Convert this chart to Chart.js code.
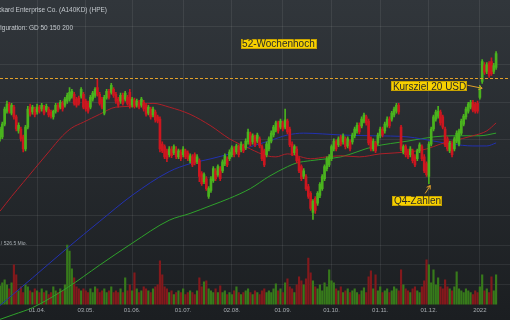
<!DOCTYPE html>
<html>
<head>
<meta charset="utf-8">
<script src="https://cdn.jsdelivr.net/npm/chart.js@4"></script>
<style>
html, body { margin: 0; padding: 0; background: #1c1f23; }
#wrap { width: 510px; height: 320px; position: relative; }
</style>
</head>
<body>
<div id="wrap"><canvas id="myChart"></canvas></div>
<script>
// HPE daily candles, trading day index 0 = ~10.03.2021
const opens = [
15.03,15.08,15.42,15.76,15.95,15.71,15.87,15.61,15.24,15.29,
15.08,14.76,15.34,15.87,15.74,15.82,15.74,15.87,15.82,15.87,
15.79,15.82,15.74,15.61,15.76,15.92,15.87,15.97,15.92,16.03,
16.08,16.16,16.21,16.08,16.11,16.16,16.21,16.03,15.97,15.87,
16.08,16.18,16.39,16.21,16.08,15.71,16.13,16.29,16.26,16.34,
16.21,16.08,16.03,16.18,16.08,16.13,16.26,15.92,16.05,15.92,
16.00,15.92,16.00,15.92,15.71,15.82,15.66,15.74,15.61,15.55,
14.89,14.82,14.71,14.61,14.76,14.66,14.76,14.55,14.68,14.61,
14.71,14.66,14.45,14.55,14.61,14.42,14.45,14.11,13.89,13.97,
13.50,13.66,13.92,14.18,14.08,14.24,14.18,14.37,14.50,14.50,
14.61,14.76,14.68,14.82,14.74,14.84,14.79,14.95,15.16,14.95,
15.08,14.97,15.03,14.82,14.71,14.61,14.76,14.97,15.13,15.26,
15.45,15.34,15.45,15.34,15.50,15.29,14.89,14.66,14.76,14.50,
14.29,14.03,14.03,13.76,13.58,13.08,13.45,13.32,13.53,13.71,
13.97,14.24,14.34,14.50,14.76,14.95,14.87,15.08,14.95,15.03,
14.84,14.95,14.95,15.11,15.24,15.39,15.37,15.50,15.61,15.50,
15.03,14.76,14.92,14.92,15.11,15.29,15.24,15.39,15.55,15.55,
15.66,15.76,15.92,15.34,14.68,14.82,14.71,14.61,14.71,14.55,
14.50,14.71,14.82,14.55,14.37,14.03,14.89,15.29,15.55,15.63,
15.74,15.61,15.29,15.03,14.71,14.89,14.76,14.97,14.89,15.18,
15.42,15.61,15.76,15.87,16.00,15.95,15.97,16.13,16.55,16.97,
16.82,17.03,17.08,16.82,16.92
];
const highs = [
15.34,15.47,15.87,16.03,16.00,15.97,15.92,15.66,15.45,15.34,
15.13,15.39,15.89,15.95,15.92,15.87,15.95,15.92,15.97,15.92,
15.95,15.87,15.79,15.79,15.97,15.97,16.05,16.03,16.13,16.24,
16.39,16.34,16.26,16.13,16.16,16.39,16.26,16.08,16.03,16.18,
16.29,16.39,16.61,16.26,16.13,16.18,16.34,16.34,16.50,16.39,
16.26,16.13,16.24,16.24,16.29,16.18,16.34,16.13,16.11,16.08,
16.05,16.13,16.05,15.97,15.92,15.87,15.87,15.79,15.66,15.61,
14.95,14.87,14.76,14.82,14.82,14.87,14.82,14.76,14.74,14.82,
14.76,14.71,14.63,14.61,14.66,14.61,14.50,14.16,14.13,14.03,
13.76,14.03,14.29,14.24,14.34,14.29,14.47,14.63,14.55,14.74,
14.84,14.82,14.89,14.87,14.95,14.89,15.03,15.29,15.21,15.16,
15.13,15.18,15.08,14.87,14.76,14.95,15.08,15.24,15.39,15.50,
15.50,15.55,15.50,15.82,15.55,15.34,14.95,14.87,14.82,14.55,
14.34,14.24,14.08,13.82,13.63,13.42,13.50,13.63,13.87,14.08,
14.34,14.55,14.61,14.87,15.03,15.00,15.08,15.13,15.16,15.08,
15.08,15.00,15.18,15.34,15.45,15.45,15.61,15.71,15.66,15.55,
15.08,15.03,14.97,15.18,15.34,15.34,15.47,15.61,15.61,15.76,
15.87,15.97,15.97,15.39,14.87,14.87,14.76,14.82,14.76,14.61,
14.76,14.92,14.87,14.61,14.42,14.95,15.34,15.66,15.79,15.89,
15.79,15.66,15.34,15.08,14.97,14.95,15.08,15.24,15.29,15.55,
15.68,15.87,16.00,16.05,16.05,16.00,16.03,16.45,17.13,17.05,
17.05,17.08,17.18,17.03,17.34
];
const lows = [
14.97,15.03,15.37,15.71,15.71,15.66,15.55,15.24,15.18,14.97,
14.68,14.71,15.29,15.63,15.68,15.61,15.68,15.71,15.76,15.66,
15.74,15.61,15.58,15.55,15.71,15.74,15.82,15.76,15.87,15.97,
16.03,16.11,15.92,15.87,15.92,16.11,15.82,15.76,15.71,15.82,
16.03,16.13,16.16,15.92,15.82,15.66,16.08,16.08,16.21,16.13,
15.97,15.87,15.97,15.92,16.03,15.92,15.84,15.87,15.84,15.87,
15.82,15.87,15.76,15.63,15.66,15.55,15.61,15.47,15.45,14.68,
14.66,14.50,14.42,14.55,14.53,14.61,14.50,14.50,14.45,14.55,
14.50,14.45,14.39,14.29,14.34,14.37,13.89,13.79,13.84,13.66,
13.45,13.61,13.87,13.92,14.03,13.92,14.13,14.32,14.29,14.45,
14.55,14.55,14.63,14.55,14.68,14.66,14.74,14.89,14.84,14.89,
14.82,14.92,14.79,14.45,14.29,14.55,14.71,14.92,15.08,15.21,
15.18,15.29,15.24,15.29,15.16,14.82,14.58,14.61,14.39,14.13,
13.92,13.97,13.66,13.45,13.13,12.89,13.05,13.26,13.47,13.66,
13.92,14.18,14.29,14.45,14.71,14.71,14.82,14.84,14.89,14.76,
14.79,14.71,14.89,15.05,15.18,15.16,15.32,15.45,15.39,14.87,
14.71,14.71,14.66,14.87,15.05,15.08,15.18,15.34,15.32,15.50,
15.61,15.71,15.68,14.71,14.63,14.55,14.50,14.55,14.39,14.29,
14.45,14.66,14.45,14.13,14.03,13.84,14.84,15.24,15.50,15.58,
15.39,15.29,14.82,14.71,14.66,14.55,14.71,14.92,14.84,15.13,
15.37,15.55,15.71,15.82,15.74,15.71,15.71,16.08,16.50,16.74,
16.76,16.66,16.71,16.76,16.87
];
const closes = [
15.29,15.42,15.82,15.95,15.76,15.92,15.61,15.29,15.39,15.03,
14.76,15.34,15.82,15.68,15.87,15.66,15.87,15.76,15.92,15.71,
15.89,15.66,15.63,15.76,15.92,15.79,16.00,15.82,16.08,16.18,
16.26,16.29,15.97,15.92,15.97,16.34,15.87,15.82,15.76,16.13,
16.24,16.34,16.21,15.97,15.87,16.13,16.29,16.13,16.45,16.18,
16.03,15.92,16.18,15.97,16.24,15.97,15.89,16.08,15.89,16.03,
15.87,16.08,15.82,15.68,15.87,15.61,15.82,15.53,15.50,14.76,
14.71,14.55,14.50,14.76,14.58,14.82,14.55,14.71,14.50,14.76,
14.55,14.50,14.58,14.34,14.39,14.55,14.03,13.84,14.08,13.71,
13.71,13.97,14.24,13.97,14.29,13.97,14.42,14.58,14.34,14.68,
14.79,14.61,14.84,14.61,14.89,14.71,14.97,15.21,14.89,15.11,
14.87,15.13,14.84,14.50,14.34,14.89,15.03,15.18,15.34,15.45,
15.24,15.50,15.29,15.53,15.21,14.87,14.63,14.82,14.45,14.18,
13.97,14.18,13.71,13.50,13.18,13.37,13.13,13.58,13.82,14.03,
14.29,14.50,14.55,14.82,14.97,14.76,15.03,14.89,15.11,14.82,
15.03,14.76,15.13,15.29,15.39,15.21,15.55,15.66,15.45,14.92,
14.76,14.97,14.71,15.13,15.29,15.13,15.42,15.55,15.37,15.71,
15.82,15.92,15.74,14.76,14.82,14.61,14.55,14.76,14.45,14.34,
14.71,14.87,14.50,14.18,14.08,14.89,15.29,15.61,15.74,15.76,
15.45,15.34,14.87,14.76,14.92,14.61,15.03,15.18,15.24,15.50,
15.63,15.82,15.95,16.00,15.79,15.76,15.76,16.39,17.08,16.79,
17.00,16.71,16.76,16.97,17.29
];
// volume in Mio. shares
const volumes = [
9.5,11,12.5,10,8,11,20,15,7,9,6,10,9,7,6,8,
7,6,8,6,7,5,6,9,7,6,8,7,10,30,27,18,13.5,9,8,7,8,
7,6,8,6,9,8,6,7,8,6,7,9,6,7,6,8,6,13.5,7,10,
7,16,8,6,7,9,8,7,6,8,9,10,
22,15,
9,8,6,7,5,6,7,6,8,5,6,7,6,5,7,
13.5,9,11.5,12,8,
7,6,8,6,9.5,6,7,5,6,5,7,9,6,5,6,7,8,6,5,7,6,5,
7,8,6,7,6,8,10.5,7,8,6,11,13,
9,8,6,10,14,12,10,13,23.5,16,12,9,8,10,7,11,9,
17.5,
12,11,8,7,9,6,7,8,6,7,8,6,5,7,8.5,6,14,17,
8,15,7,9,6,7,8,6,7,9,8,7,
17.5,
10,8,7,6,8,9,7,6,9,12,22.5,20,11,17.5,10,13.5,9,8,12.5,9,
8,7,9,16.5,8,7,6,8,7,6,5,7,6,9,15,7,8,6,14,7,15
];

// moving averages (GD 50 / 150 / 200), read at these trading day indices
const gd50Idx = [0,5,10,15,21,27,31,36,43,50,57,66,73,82,91,99,108,115,119,124,128,134,141,147,155,164,176,184,190,195,204,210,214];
const gd50 = [13.11,13.50,13.87,14.24,14.68,15.11,15.32,15.47,15.68,15.87,15.89,15.97,15.87,15.68,15.37,15.03,14.76,14.58,14.55,14.63,14.58,14.50,14.55,14.58,14.55,14.63,14.68,14.76,14.89,14.97,15.11,15.24,15.45];
const gd150Idx = [0,14,29,43,57,73,82,91,99,108,116,124,131,139,147,161,176,187,195,204,210,214];
const gd150 = [10.61,11.34,12.13,12.84,13.53,14.16,14.37,14.50,14.63,14.82,14.97,15.13,15.18,15.16,15.13,15.11,15.08,14.97,14.89,14.84,14.84,14.92];
const gd200Idx = [0,6,14,29,43,57,73,82,91,99,108,116,124,128,134,141,147,161,176,187,195,207,214];
const gd200 = [10.24,10.37,10.55,11.08,11.68,12.26,12.87,13.05,13.26,13.45,13.71,14.03,14.29,14.39,14.45,14.50,14.55,14.82,14.97,15.08,15.11,15.11,15.18];

// x axis: first trading day of each month
const tickIdx = [16,37,57,79,100,122,143,164,185,207];
const tickLabels = ['01.04.','03.05.','01.06.','01.07.','02.08.','01.09.','01.10.','01.11.','01.12.','2022'];
const priceGrid = [13,14,15,16,17,18];
const volGrid = [10,20,30];
const hoch52 = 16.63;

const gridCol = 'rgba(255,255,255,0.075)';
const up = closes.map((c, i) => c >= opens[i]);
const candleCol = up.map(u => u ? '#4ab31e' : '#cc161f');
const volCol = up.map(u => u ? '#377a1b' : '#83191c');
const days = closes.map((c, i) => i);

const background = {
    id: 'background',
    beforeDraw(chart) {
        const ctx = chart.ctx;
        const g = ctx.createLinearGradient(0, 0, 0, chart.height);
        g.addColorStop(0, '#31363b');
        g.addColorStop(1, '#1b1e21');
        ctx.save();
        ctx.fillStyle = g;
        ctx.fillRect(0, 0, chart.width, chart.height);
        ctx.restore();
    }
};

function arrow(ctx, x0, y0, x1, y1) {
    const a = Math.atan2(y1 - y0, x1 - x0);
    ctx.beginPath();
    ctx.moveTo(x0, y0);
    ctx.lineTo(x1, y1);
    ctx.moveTo(x1 - 4 * Math.cos(a - 0.55), y1 - 4 * Math.sin(a - 0.55));
    ctx.lineTo(x1, y1);
    ctx.lineTo(x1 - 4 * Math.cos(a + 0.55), y1 - 4 * Math.sin(a + 0.55));
    ctx.stroke();
}

function labelBox(ctx, text, cx, cy) {
    ctx.font = '10px "Liberation Sans", Arial, sans-serif';
    const w = ctx.measureText(text).width + 3;
    ctx.fillStyle = '#f6d000';
    ctx.strokeStyle = '#c9a400';
    ctx.lineWidth = 1;
    ctx.fillRect(Math.round(cx - w / 2), Math.round(cy - 5), Math.round(w), 10);
    ctx.strokeRect(Math.round(cx - w / 2) + 0.5, Math.round(cy - 5) + 0.5, Math.round(w) - 1, 9);
    ctx.fillStyle = '#2a2a2a';
    ctx.textAlign = 'center';
    ctx.textBaseline = 'middle';
    ctx.fillText(text, cx, cy + 0.5);
}

const notes = {
    id: 'notes',
    afterDatasetsDraw(chart) {
        const ctx = chart.ctx;
        const px = v => chart.scales.x.getPixelForValue(v);
        const py = v => chart.scales.y.getPixelForValue(v);
        ctx.save();
        // 52-week high
        const yh = Math.round(py(hoch52)) + 0.5;
        ctx.strokeStyle = '#e2a02a';
        ctx.lineWidth = 1;
        ctx.setLineDash([3, 2]);
        ctx.beginPath();
        ctx.moveTo(0, yh);
        ctx.lineTo(chart.width, yh);
        ctx.stroke();
        ctx.setLineDash([]);
        // arrows
        ctx.strokeStyle = '#e2a02a';
        arrow(ctx, px(201.6), py(16.45), px(208.0), py(16.37));
        arrow(ctx, px(183.4), py(13.58), px(185.6), py(13.79));
        // boxes
        labelBox(ctx, '52-Wochenhoch', px(120.1), py(17.55));
        labelBox(ctx, 'Kursziel 20 USD', px(185.3), py(16.42));
        labelBox(ctx, 'Q4-Zahlen', px(180.1), py(13.39));
        ctx.restore();
    },
    afterDraw(chart) {
        const ctx = chart.ctx;
        ctx.save();
        ctx.fillStyle = '#c3c8cd';
        ctx.textAlign = 'right';
        ctx.textBaseline = 'middle';
        ctx.font = '6.5px "Liberation Sans", Arial, sans-serif';
        ctx.fillText('Hewlett Packard Enterprise Co. (A140KD) (HPE)', 107, 10);
        ctx.fillText('Konfiguration: GD 50 150 200', 73, 28);
        ctx.font = '5px "Liberation Sans", Arial, sans-serif';
        ctx.fillStyle = '#aab0b5';
        ctx.fillText('/ 526.5 Mio.', 27, 244);
        ctx.restore();
    }
};

const ctx = document.getElementById('myChart').getContext('2d');

new Chart(ctx, {
    type: 'bar',
    data: {
        datasets: [
            {
                type: 'bar', label: 'Kerze',
                data: days.map(i => ({ x: i, y: [opens[i], closes[i]] })),
                backgroundColor: candleCol, barThickness: 2, minBarLength: 1,
                grouped: false, yAxisID: 'y', order: 0
            },
            {
                type: 'bar', label: 'Docht',
                data: days.map(i => ({ x: i, y: [lows[i], highs[i]] })),
                backgroundColor: candleCol, barThickness: 1,
                grouped: false, yAxisID: 'y', order: 1
            },
            {
                type: 'line', label: 'GD 50',
                data: gd50Idx.map((d, k) => ({ x: d, y: gd50[k] })),
                borderColor: '#ad1f28', borderWidth: 1, pointRadius: 0,
                cubicInterpolationMode: 'monotone', clip: false, yAxisID: 'y', order: 2
            },
            {
                type: 'line', label: 'GD 150',
                data: gd150Idx.map((d, k) => ({ x: d, y: gd150[k] })),
                borderColor: '#2231b0', borderWidth: 1, pointRadius: 0,
                cubicInterpolationMode: 'monotone', clip: false, yAxisID: 'y', order: 3
            },
            {
                type: 'line', label: 'GD 200',
                data: gd200Idx.map((d, k) => ({ x: d, y: gd200[k] })),
                borderColor: '#2fa22b', borderWidth: 1, pointRadius: 0,
                cubicInterpolationMode: 'monotone', clip: false, yAxisID: 'y', order: 4
            },
            {
                type: 'bar', label: 'Volumen',
                data: days.map(i => ({ x: i, y: volumes[i] })),
                backgroundColor: volCol, barThickness: 1.5,
                grouped: false, yAxisID: 'v', order: 5
            }
        ]
    },
    options: {
        responsive: true,
        maintainAspectRatio: false,
        animation: false,
        devicePixelRatio: 1,
        layout: { padding: { left: 0, right: 0, top: 0, bottom: 3.4 } },
        plugins: { legend: { display: false }, tooltip: { enabled: false } },
        scales: {
            x: {
                type: 'linear', min: 0, max: 220, offset: false,
                grid: { color: gridCol, drawTicks: false, offset: false },
                border: { display: false },
                ticks: {
                    color: '#a6abb0', padding: 2.4, maxRotation: 0, autoSkip: false,
                    font: { size: 6, family: '"Liberation Sans", Arial, sans-serif' },
                    callback: v => { const k = tickIdx.indexOf(v); return k < 0 ? '' : tickLabels[k]; }
                },
                afterBuildTicks: a => { a.ticks = tickIdx.map(v => ({ value: v })); }
            },
            y: {
                type: 'linear', position: 'left', min: 10.632, max: 18.711,
                grid: { color: gridCol, drawTicks: false },
                border: { display: false },
                ticks: { display: false },
                afterBuildTicks: a => { a.ticks = priceGrid.map(v => ({ value: v })); }
            },
            v: {
                type: 'linear', position: 'right', min: 0, max: 153.5,
                grid: { color: gridCol, drawTicks: false },
                border: { display: false },
                ticks: { display: false },
                afterBuildTicks: a => { a.ticks = volGrid.map(v => ({ value: v })); }
            }
        }
    },
    plugins: [background, notes]
});
</script>
</body>
</html>
